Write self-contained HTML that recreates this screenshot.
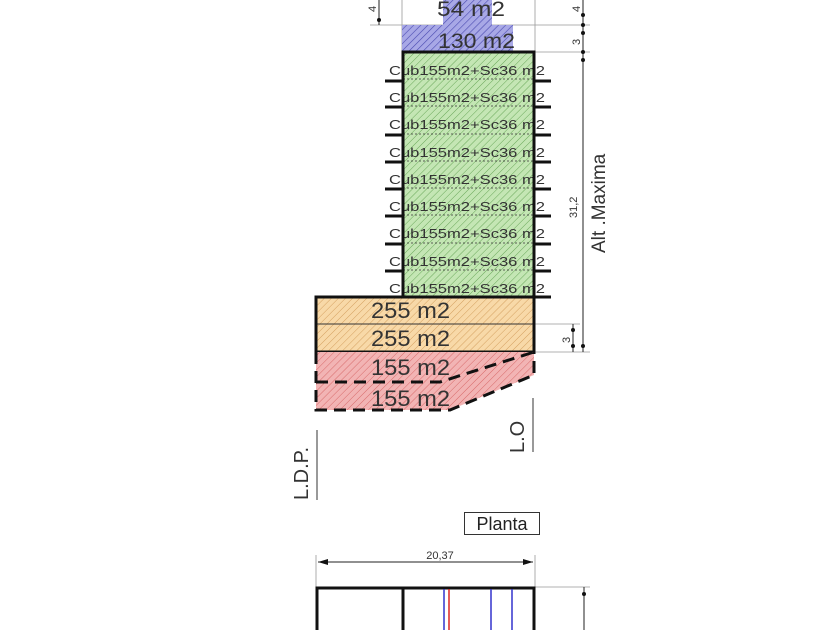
<!DOCTYPE html>
<html><head><meta charset="utf-8"><style>body{margin:0;background:#fff}svg{display:block}text{font-family:"Liberation Sans",sans-serif;fill:#333}</style></head><body>
<svg width="840" height="630" viewBox="0 0 840 630" xmlns="http://www.w3.org/2000/svg">
<defs>
<pattern id="hb" width="5" height="5" patternUnits="userSpaceOnUse" patternTransform="rotate(45)"><rect width="5" height="5" fill="#a8a8e6"/><line x1="0" y1="0" x2="0" y2="5" stroke="#4a4ab0" stroke-width="1.2"/></pattern>
<pattern id="hg" width="5" height="5" patternUnits="userSpaceOnUse" patternTransform="rotate(45)"><rect width="5" height="5" fill="#c4e6b4"/><line x1="0" y1="0" x2="0" y2="5" stroke="#6aa85a" stroke-width="1"/></pattern>
<pattern id="ho" width="5" height="5" patternUnits="userSpaceOnUse" patternTransform="rotate(45)"><rect width="5" height="5" fill="#f8d9a8"/><line x1="0" y1="0" x2="0" y2="5" stroke="#d4a060" stroke-width="1"/></pattern>
<pattern id="hr" width="5" height="5" patternUnits="userSpaceOnUse" patternTransform="rotate(45)"><rect width="5" height="5" fill="#f2b4b4"/><line x1="0" y1="0" x2="0" y2="5" stroke="#d86a6a" stroke-width="1"/></pattern>
</defs>
<g stroke="#999" stroke-width="0.8" fill="none">
<line x1="402" y1="0" x2="402" y2="52"/><line x1="535" y1="0" x2="535" y2="52"/>
<line x1="370" y1="25" x2="443" y2="25"/><line x1="492" y1="25" x2="590" y2="25"/>
<line x1="513" y1="52" x2="590" y2="52"/>
<line x1="534" y1="324" x2="580" y2="324"/><line x1="534" y1="352" x2="590" y2="352"/>
<line x1="316" y1="555" x2="316" y2="587"/><line x1="535" y1="555" x2="535" y2="587"/>
<line x1="535" y1="587" x2="590" y2="587"/>
</g>
<path d="M443,0 L492,0 L492,25 L513,25 L513,52 L402,52 L402,25 L443,25 Z" fill="url(#hb)"/>
<text x="437" y="16" font-size="21" textLength="68" lengthAdjust="spacingAndGlyphs">54 m2</text>
<text x="438" y="48" font-size="21" textLength="77" lengthAdjust="spacingAndGlyphs">130 m2</text>
<rect x="403" y="52" width="131" height="245" fill="url(#hg)"/>
<g stroke="#333" stroke-width="0.8" stroke-dasharray="2,2">
<line x1="403" y1="79" x2="534" y2="79"/><line x1="403" y1="106" x2="534" y2="106"/><line x1="403" y1="134" x2="534" y2="134"/><line x1="403" y1="161" x2="534" y2="161"/><line x1="403" y1="188" x2="534" y2="188"/><line x1="403" y1="215" x2="534" y2="215"/><line x1="403" y1="243" x2="534" y2="243"/><line x1="403" y1="270" x2="534" y2="270"/>
</g>
<g font-size="13">
<text x="389" y="75" textLength="156" lengthAdjust="spacingAndGlyphs">Cub155m2+Sc36 m2</text><text x="389" y="102" textLength="156" lengthAdjust="spacingAndGlyphs">Cub155m2+Sc36 m2</text><text x="389" y="129" textLength="156" lengthAdjust="spacingAndGlyphs">Cub155m2+Sc36 m2</text><text x="389" y="157" textLength="156" lengthAdjust="spacingAndGlyphs">Cub155m2+Sc36 m2</text><text x="389" y="184" textLength="156" lengthAdjust="spacingAndGlyphs">Cub155m2+Sc36 m2</text><text x="389" y="211" textLength="156" lengthAdjust="spacingAndGlyphs">Cub155m2+Sc36 m2</text><text x="389" y="238" textLength="156" lengthAdjust="spacingAndGlyphs">Cub155m2+Sc36 m2</text><text x="389" y="266" textLength="156" lengthAdjust="spacingAndGlyphs">Cub155m2+Sc36 m2</text><text x="389" y="293" textLength="156" lengthAdjust="spacingAndGlyphs">Cub155m2+Sc36 m2</text>
</g>
<g stroke="#111" stroke-width="3">
<line x1="385" y1="81" x2="403" y2="81"/><line x1="534" y1="81" x2="551" y2="81"/>
<line x1="385" y1="107" x2="403" y2="107"/><line x1="534" y1="107" x2="551" y2="107"/>
<line x1="385" y1="135" x2="403" y2="135"/><line x1="534" y1="135" x2="551" y2="135"/>
<line x1="385" y1="162" x2="403" y2="162"/><line x1="534" y1="162" x2="551" y2="162"/>
<line x1="385" y1="189" x2="403" y2="189"/><line x1="534" y1="189" x2="551" y2="189"/>
<line x1="385" y1="216" x2="403" y2="216"/><line x1="534" y1="216" x2="551" y2="216"/>
<line x1="385" y1="244" x2="403" y2="244"/><line x1="534" y1="244" x2="551" y2="244"/>
<line x1="385" y1="271" x2="403" y2="271"/><line x1="534" y1="271" x2="551" y2="271"/>
<line x1="534" y1="297" x2="551" y2="297"/>
<rect x="403" y="52" width="131" height="245" fill="none"/>
</g>
<rect x="316" y="297" width="218" height="55" fill="url(#ho)"/>
<line x1="316" y1="324" x2="534" y2="324" stroke="#333" stroke-width="1"/>
<rect x="316" y="297" width="218" height="55" fill="none" stroke="#111" stroke-width="3"/>
<text x="371" y="318" font-size="22" textLength="79" lengthAdjust="spacingAndGlyphs">255 m2</text>
<text x="371" y="346" font-size="22" textLength="79" lengthAdjust="spacingAndGlyphs">255 m2</text>
<path d="M316,352 L534,352 L534,375 L450,410 L316,410 Z" fill="url(#hr)"/>
<g stroke="#111" stroke-width="3" stroke-dasharray="12,7" fill="none">
<path d="M316,352 L316,410 L450,410 L534,375 L534,352"/>
<path d="M316,382 L440,382 L534,352"/>
</g>
<text x="371" y="375" font-size="22" textLength="79" lengthAdjust="spacingAndGlyphs">155 m2</text>
<text x="371" y="406" font-size="22" textLength="79" lengthAdjust="spacingAndGlyphs">155 m2</text>
<line x1="533" y1="398" x2="533" y2="452" stroke="#333" stroke-width="1"/>
<text transform="translate(524,453) rotate(-90)" font-size="20">L.O</text>
<line x1="317" y1="430" x2="317" y2="500" stroke="#333" stroke-width="1"/>
<text transform="translate(308,500) rotate(-90)" font-size="20">L.D.P.</text>
<g stroke="#222" stroke-width="1">
<line x1="583" y1="0" x2="583" y2="352"/>
<line x1="573" y1="324" x2="573" y2="352"/>
<line x1="379" y1="0" x2="379" y2="25"/>
</g>
<g fill="#111">
<circle cx="583" cy="15" r="2"/><circle cx="583" cy="25" r="2"/><circle cx="583" cy="33" r="2"/><circle cx="583" cy="52" r="2"/><circle cx="583" cy="60" r="2"/><circle cx="583" cy="346" r="2"/>
<circle cx="573" cy="330" r="2"/><circle cx="573" cy="346" r="2"/><circle cx="379" cy="20" r="2"/>
</g>
<text transform="translate(580,12) rotate(-90)" font-size="11">4</text>
<text transform="translate(376,12) rotate(-90)" font-size="11">4</text>
<text transform="translate(580,45) rotate(-90)" font-size="11">3</text>
<text transform="translate(570,343) rotate(-90)" font-size="11">3</text>
<text transform="translate(577,218) rotate(-90)" font-size="11">31,2</text>
<text transform="translate(605,253) rotate(-90)" font-size="19">Alt .Maxima</text>
<rect x="464.5" y="512.5" width="75" height="22" fill="none" stroke="#333" stroke-width="1"/>
<text x="502" y="530" font-size="18" text-anchor="middle" style="fill:#222">Planta</text>
<text x="440" y="559" font-size="11" text-anchor="middle">20,37</text>
<line x1="318" y1="562" x2="533" y2="562" stroke="#222" stroke-width="1"/>
<path d="M318,562 l10,-3 v6 Z M533,562 l-10,-3 v6 Z" fill="#111"/>
<g stroke="#111" stroke-width="3" fill="none">
<path d="M317,632 L317,588 L534,588 L534,632"/>
<line x1="403" y1="588" x2="403" y2="632"/>
</g>
<g stroke-width="1.5">
<line x1="444" y1="589" x2="444" y2="630" stroke="#3333cc"/>
<line x1="449" y1="589" x2="449" y2="630" stroke="#dd2222"/>
<line x1="491" y1="589" x2="491" y2="630" stroke="#3333cc"/>
<line x1="512" y1="589" x2="512" y2="630" stroke="#3333cc"/>
</g>
<line x1="584" y1="587" x2="584" y2="630" stroke="#222" stroke-width="1"/>
<circle cx="584" cy="594" r="2" fill="#111"/>
</svg>
</body></html>
